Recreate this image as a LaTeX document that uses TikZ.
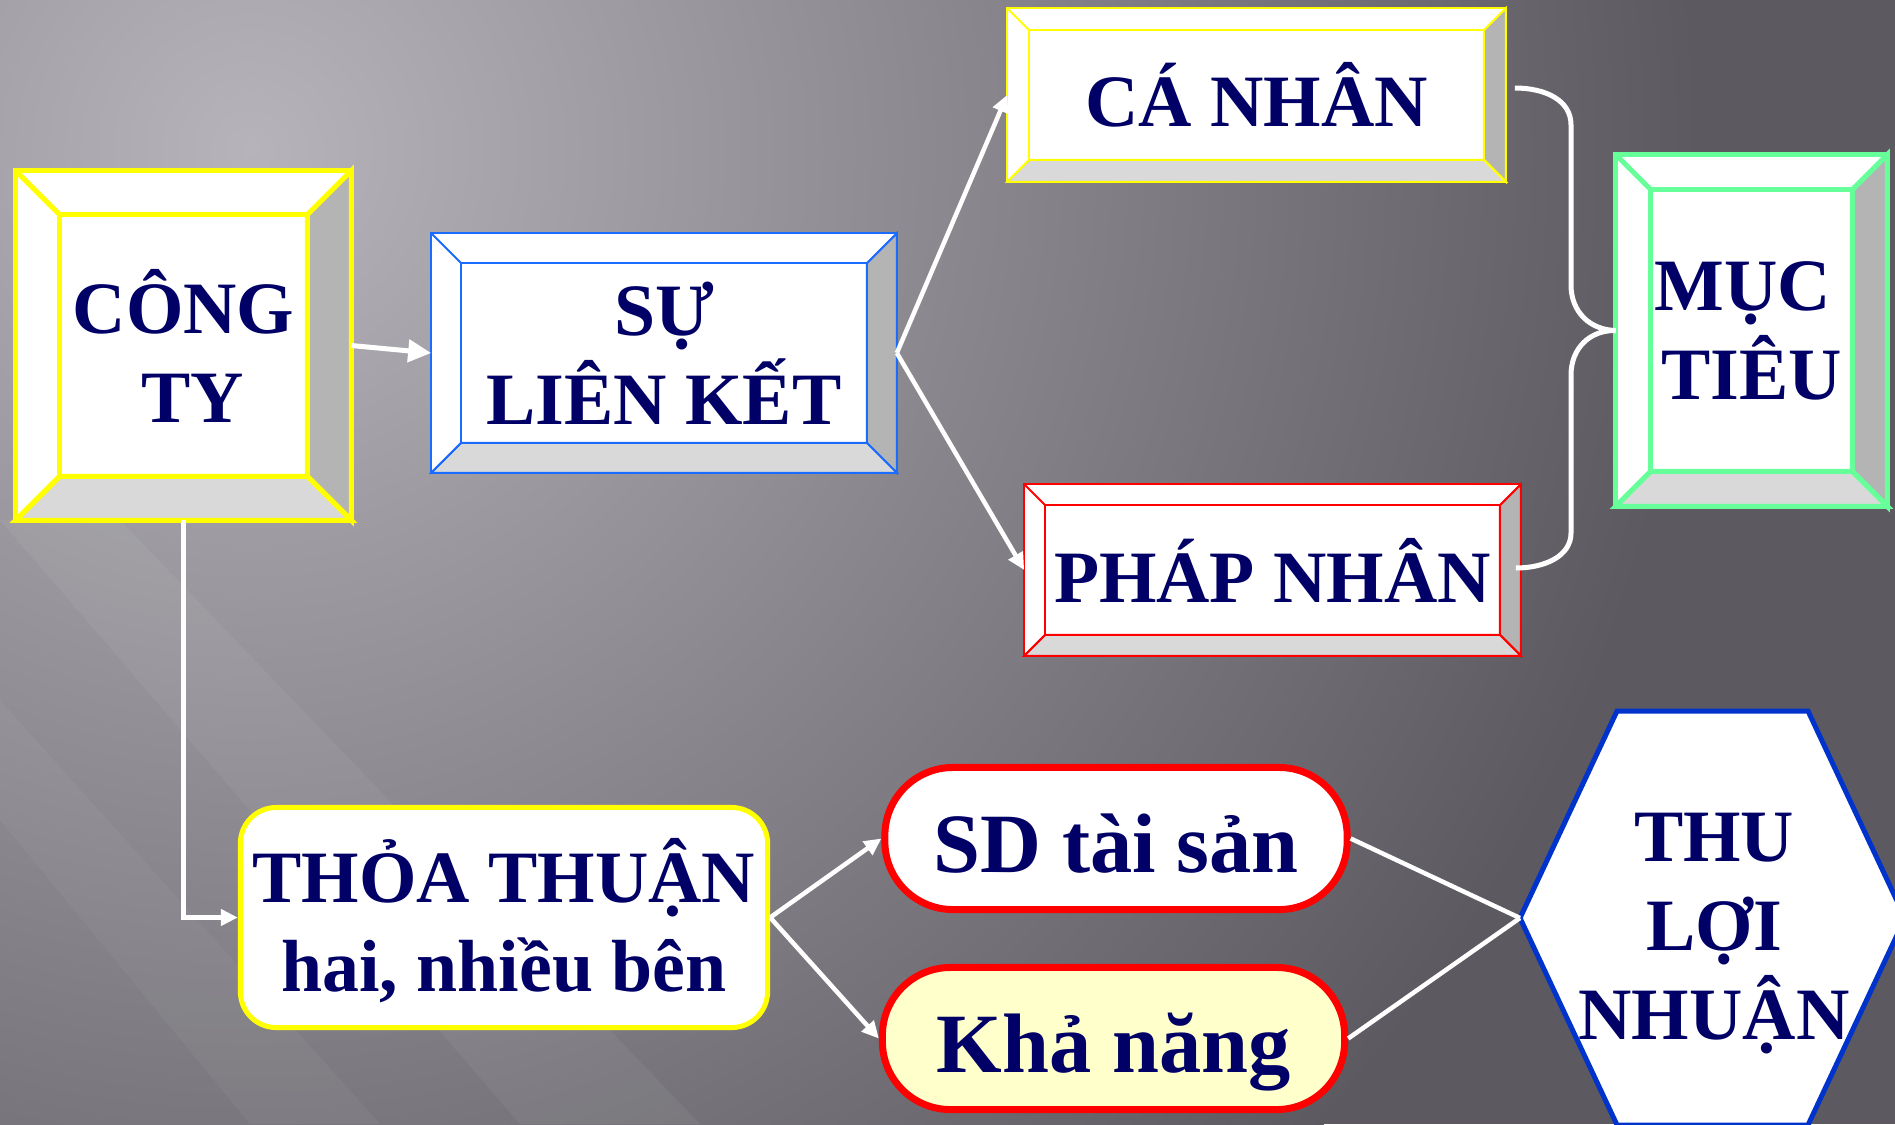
\documentclass[tikz,border=0pt]{standalone}
\usepackage{fontspec}
\setmainfont{Liberation Serif}
\usetikzlibrary{calc,arrows.meta,backgrounds,positioning}
\definecolor{navy}{HTML}{000066}
\definecolor{bgdark}{HTML}{5C5A60}
\definecolor{bglight}{HTML}{B6B4BA}
\definecolor{facegray}{HTML}{B4B4B4}
\definecolor{facelight}{HTML}{D9D9D9}
\definecolor{boxyellow}{HTML}{FFFF00}
\definecolor{boxblue}{HTML}{1A6CFF}
\definecolor{boxred}{HTML}{FF0000}
\definecolor{boxgreen}{HTML}{66FF99}
\definecolor{hexblue}{HTML}{0033CC}
\definecolor{paleyellow}{HTML}{FFFFCC}
% bevelled frame behind a node: node, depth, line style
\newcommand{\bevel}[3]{%
  \filldraw[fill=white,#3] (#1.north west) rectangle (#1.south east);
  \filldraw[fill=facegray,#3] (#1.north east) -- (#1.south east) -- ($(#1.south east)+(-#2,-#2)$) -- ($(#1.north east)+(-#2,#2)$) -- cycle;
  \filldraw[fill=facelight,#3] (#1.south west) -- (#1.south east) -- ($(#1.south east)+(-#2,-#2)$) -- ($(#1.south west)+(#2,-#2)$) -- cycle;
  \draw[#3] ($(#1.north west)+(#2,#2)$) rectangle ($(#1.south east)+(-#2,-#2)$);
  \draw[#3] (#1.north west) -- ++(#2,#2);
  \draw[#3] (#1.south west) -- ++(#2,-#2);
}
\begin{document}
\begin{tikzpicture}[x=0.01cm,y=-0.01cm,
    label/.style={font=\fontsize{21}{25.3}\selectfont\bfseries, text=navy, align=center, inner sep=0pt},
    biglabel/.style={label, font=\fontsize{24}{29}\selectfont\bfseries},
    pill/.style={biglabel, draw=boxred, line width=0.07cm, rounded corners=0.68cm, minimum width=4.62cm, minimum height=1.42cm,
                 text height=0.85cm, text depth=0.17cm},
    arrowline/.style={white, line width=0.045cm, -{Triangle[length=0.17cm,width=0.16cm]}},
    plainline/.style={white, line width=0.045cm}]
        \useasboundingbox (0,0) rectangle (1895,1124);
        % Boxes
        \node[label, minimum width=3.34cm, minimum height=3.48cm] (congty) at (183.5,345.5) {CÔNG\\\hspace*{0.18cm}TY};
        \node[label, minimum width=4.64cm, minimum height=2.38cm] (su) at (664,353) {SỰ\\LIÊN KẾT};
        \node[label, minimum width=4.97cm, minimum height=1.72cm] (canhan) at (1256.5,95) {CÁ NHÂN};
        \node[label, minimum width=4.95cm, minimum height=1.70cm] (phapnhan) at (1272.5,570) {PHÁP NHÂN};
        \node[label, minimum width=2.70cm, minimum height=3.50cm] (muctieu) at (1751.5,330.5) {MỤC\hspace*{0.18cm}\\TIÊU};
        \node[label, draw=boxyellow, line width=0.05cm, fill=white, rounded corners=0.36cm,
              minimum width=5.27cm, minimum height=2.20cm, text depth=0.05cm] (thoa) at (504,917.5) {THỎA THUẬN\\hai, nhiều bên};
        \node[pill, fill=white] (sd) at (1116,838.5) {SD tài sản};
        \node[pill, fill=paleyellow] (khanang) at (1113.5,1038.5) {Khả năng};
        % Hexagon
        \coordinate (hexw) at (1520,918);
        \draw[hexblue, line width=0.05cm, fill=white] (1617,711) -- (1808,711) -- (1905,918) -- (1808,1125) -- (1617,1125) -- (hexw) -- cycle;
        \node[label] (loinhuan) at (1714,934) {THU\\LỢI\\NHUẬN};
        % Background and bevels
        \begin{scope}[on background layer]
          \fill[bgdark] (0,0) rectangle (1895,1124);
          \clip (0,0) rectangle (1895,1124);
          \shade[inner color=bglight, outer color=bgdark] (250,150) circle (1450);
          \fill[white, opacity=0.05] (0,520) -- (120,520) -- (700,1124) -- (520,1124) -- cycle;
          \fill[white, opacity=0.04] (0,700) -- (0,820) -- (250,1124) -- (380,1124) -- cycle;
          \bevel{congty}{44}{draw=boxyellow, line width=0.05cm}
          \bevel{su}{30}{draw=boxblue, line width=0.02cm}
          \bevel{canhan}{22}{draw=boxyellow, line width=0.02cm}
          \bevel{phapnhan}{21}{draw=boxred, line width=0.02cm}
          \bevel{muctieu}{35}{draw=boxgreen, line width=0.05cm}
        \end{scope}
        % Arrows
        \draw[arrowline, line width=0.05cm, -{Triangle[length=0.23cm,width=0.22cm]}] (congty.east) -- (su.west);
        \draw[arrowline] (su.east) -- (canhan.west);
        \draw[arrowline] (su.east) -- (phapnhan.west);
        \draw[arrowline] (congty.south) |- (thoa.west);
        \draw[arrowline] (thoa.east) -- (sd.west);
        \draw[arrowline] (thoa.east) -- (khanang.west);
        \draw[plainline] (sd.east) -- (hexw);
        \draw[plainline] (khanang.east) -- (hexw);
        % Brace
        \draw[plainline, line width=0.05cm] ($(canhan.east)+(9,-7)$) .. controls (1545,88) and (1571,100) .. (1571,125)
          -- (1571,285) .. controls (1571,312) and (1590,330) .. (muctieu.west)
          .. controls (1590,330) and (1571,348) .. (1571,375)
          -- (1571,533) .. controls (1571,556) and (1545,568) .. ($(phapnhan.east)+(-5,-2)$);
\end{tikzpicture}
\end{document}
